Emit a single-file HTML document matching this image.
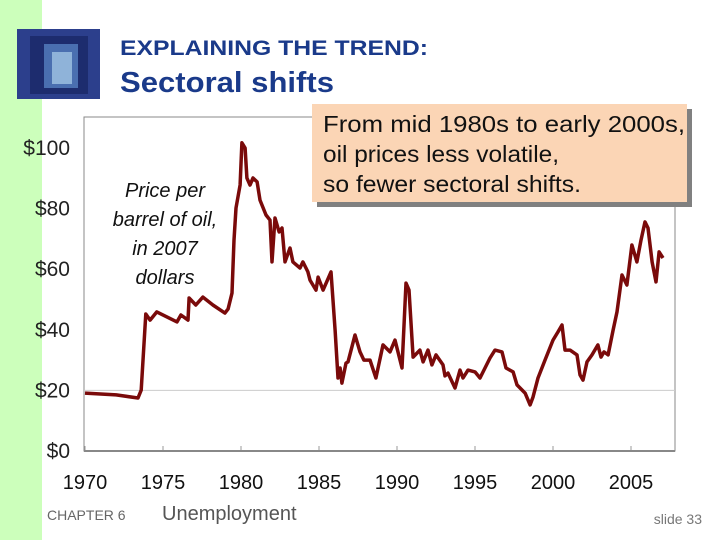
<!DOCTYPE html>
<html><head><meta charset="utf-8"><style>
body{margin:0;width:720px;height:540px;overflow:hidden;background:#fff;font-family:"Liberation Sans",Arial,sans-serif}
</style></head><body>
<svg width="720" height="540" xmlns="http://www.w3.org/2000/svg" style="font-family:'Liberation Sans',Arial,sans-serif">
<rect x="0" y="0" width="42" height="540" fill="#ccffbb"/>
<g>
<rect x="17" y="29" width="83" height="70" fill="#2c3f8c"/>
<rect x="30" y="36" width="58" height="58" fill="#1d2c6e"/>
<rect x="44" y="44" width="34" height="44" fill="#4a6fb0"/>
<rect x="52" y="52" width="20" height="32" fill="#8fb3d9"/>
</g>
<text x="120" y="55" font-size="21" font-weight="bold" fill="#1a3a8a" textLength="308" lengthAdjust="spacingAndGlyphs">EXPLAINING THE TREND:</text>
<text x="120" y="92" font-size="29" font-weight="bold" fill="#1a3a8a" textLength="214" lengthAdjust="spacingAndGlyphs">Sectoral shifts</text>

<rect x="84" y="117" width="591" height="334" fill="#fff" stroke="#888" stroke-width="1"/>
<g id="grid"></g>
<g id="yticks"></g>
<g id="xticks"></g>
<path id="series" fill="none" stroke="#7a0a0a" stroke-width="3.5" stroke-linejoin="round"/>
<line x1="84" y1="451" x2="675" y2="451" stroke="#888" stroke-width="2"/>

<text font-size="20" font-style="italic" fill="#111" text-anchor="middle">
<tspan x="165" y="197">Price per</tspan><tspan x="165" y="226">barrel of oil,</tspan><tspan x="165" y="255">in 2007</tspan><tspan x="165" y="284">dollars</tspan></text>

<g>
<rect x="317" y="109" width="375" height="98" fill="#808080"/>
<rect x="312" y="104" width="375" height="98" fill="#fbd5b5"/>
<text font-size="23" fill="#111"><tspan x="323" y="132" textLength="362" lengthAdjust="spacingAndGlyphs">From mid 1980s to early 2000s,</tspan><tspan x="323" y="162" textLength="236" lengthAdjust="spacingAndGlyphs">oil prices less volatile,</tspan><tspan x="323" y="192" textLength="258" lengthAdjust="spacingAndGlyphs">so fewer sectoral shifts.</tspan></text>
</g>

<text x="47" y="520" font-size="14" fill="#666">CHAPTER 6</text>
<text x="162" y="520" font-size="20" fill="#555">Unemployment</text>
<text x="702" y="524" font-size="14" fill="#777" text-anchor="end">slide 33</text>
</svg>
<script>
const yTickValues=[0,20,40,60,80,100];
const yTickLabels=["$0","$20","$40","$60","$80","$100"];
const xTickYears=[1970,1975,1980,1985,1990,1995,2000,2005];
const years=[1970,1972,1973.4,1973.6,1973.9,1974.17,1974.6,1975.9,1976.15,1976.6,1976.67,1977.1,1977.56,1978.2,1978.97,1979.17,1979.42,1979.55,1979.68,1979.94,1980.06,1980.26,1980.38,1980.58,1980.77,1981.03,1981.22,1981.6,1981.86,1981.99,1982.18,1982.44,1982.63,1982.82,1983.14,1983.33,1983.78,1983.97,1984.29,1984.42,1984.81,1984.94,1985.26,1985.77,1986.03,1986.22,1986.35,1986.47,1986.73,1986.86,1987.31,1987.63,1987.88,1988.27,1988.65,1989.1,1989.55,1989.87,1990.32,1990.58,1990.77,1991.03,1991.47,1991.67,1991.99,1992.24,1992.5,1992.95,1993.08,1993.27,1993.72,1994.04,1994.23,1994.55,1995,1995.32,1995.96,1996.28,1996.73,1996.99,1997.44,1997.69,1998.21,1998.53,1998.72,1999.04,1999.49,2000,2000.32,2000.58,2000.77,2001.09,2001.54,2001.73,2001.92,2002.18,2002.5,2002.88,2003.08,2003.27,2003.53,2003.85,2004.1,2004.42,2004.74,2005.06,2005.38,2005.64,2005.9,2006.09,2006.35,2006.6,2006.8,2007.05];
const prices=[19.1,18.5,17.5,20.1,45.2,43.2,45.9,42.6,44.9,43.2,50.5,48.2,50.8,48.2,45.5,46.9,52.1,69.6,80.2,87.8,101.7,100,90.1,87.8,90.1,88.8,82.8,77.9,76.2,62.4,76.9,72.3,73.6,62.4,67,62.4,60.4,62.4,59.1,56.4,53.1,57.4,53.1,59.1,39.9,24.1,27.4,22.4,29,29.4,38.3,32.7,30,30,24.1,35,32.7,36.6,27.4,55.4,53.1,31,33.3,29.4,33.3,28.4,31.7,28.4,24.8,25.7,20.8,26.7,24.1,26.7,26.1,24.1,30.7,33.3,32.7,27.4,26.1,21.8,19.1,15.2,17.8,24.1,30,36.6,39.3,41.6,33.3,33.3,31.7,25.1,23.4,29.4,31.7,35,31,32.7,31.7,39.9,45.9,58.1,54.8,68,62.4,69.6,75.6,73.6,62.4,55.8,65.7,63.7];
const NS="http://www.w3.org/2000/svg";
const xs=yr=>85+15.6*(yr-1970);
const ys=v=>451-3.03*v;
const grid=document.getElementById('grid'),yt=document.getElementById('yticks'),xt=document.getElementById('xticks');
yTickValues.forEach((v,i)=>{
  if(v===20){const l=document.createElementNS(NS,'line');
    
    
    l.setAttribute('x1',84);l.setAttribute('x2',675);l.setAttribute('y1',ys(v));l.setAttribute('y2',ys(v));
    l.setAttribute('stroke','#ccc');grid.appendChild(l);}
  const t=document.createElementNS(NS,'text');
  
  
  t.setAttribute('x',70);t.setAttribute('y',ys(v)+7);t.setAttribute('text-anchor','end');
  t.setAttribute('font-size','21');t.setAttribute('fill','#222');t.textContent=yTickLabels[i];yt.appendChild(t);
});
xTickYears.forEach(yr=>{
  const l=document.createElementNS(NS,'line');
  
  
  l.setAttribute('x1',xs(yr));l.setAttribute('x2',xs(yr));l.setAttribute('y1',446);l.setAttribute('y2',451);
  l.setAttribute('stroke','#999');xt.appendChild(l);
  const t=document.createElementNS(NS,'text');
  
  
  t.setAttribute('x',xs(yr));t.setAttribute('y',489);t.setAttribute('text-anchor','middle');
  t.setAttribute('font-size','20');t.setAttribute('fill','#111');t.textContent=yr;xt.appendChild(t);
});
document.getElementById('series').setAttribute('d',years.map((yr,i)=>(i?'L':'M')+xs(yr).toFixed(1)+','+ys(prices[i]).toFixed(1)).join(''));
</script>
</body></html>
